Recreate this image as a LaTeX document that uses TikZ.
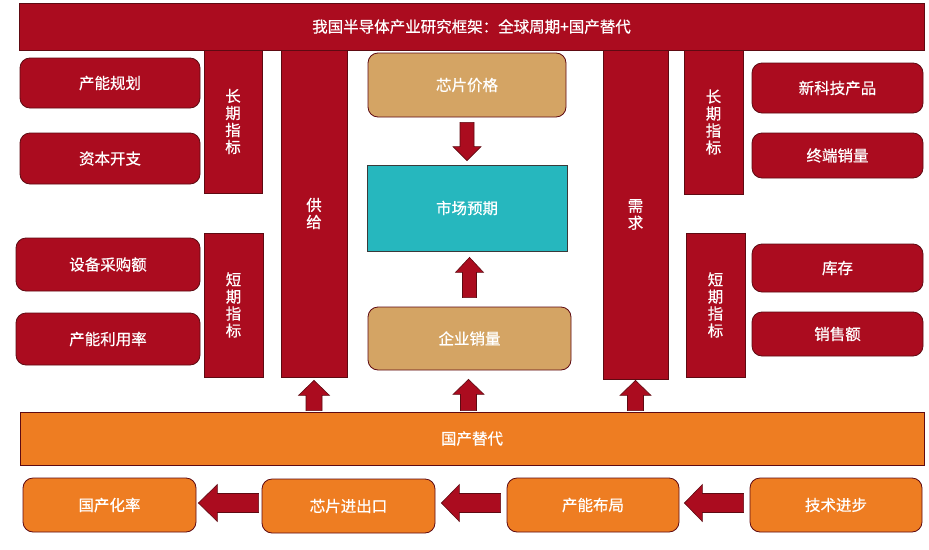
\documentclass[tikz,border=0pt]{standalone}
\usepackage{fontspec}
\newfontfamily\cjk[FakeBold=0.6]{Noto Sans CJK SC}
\usetikzlibrary{calc}
\definecolor{redc}{HTML}{AB0C1F}
\definecolor{bordc}{HTML}{5E0A12}
\definecolor{orangec}{HTML}{EE7D22}
\definecolor{tanc}{HTML}{D4A464}
\definecolor{tealc}{HTML}{26B7BE}
\definecolor{tealbord}{HTML}{3A3A3A}
\tikzset{
  base/.style={draw=bordc, line width=0.8pt, text=white, inner sep=0pt, align=center,
    font=\cjk\fontsize{15.5}{17}\selectfont},
  redbox/.style={base, fill=redc},
  redround/.style={redbox, rounded corners=10pt},
  tanbox/.style={base, fill=tanc, rounded corners=10pt},
  tealbox/.style={base, fill=tealc, draw=tealbord},
  orangebox/.style={base, fill=orangec},
  orround/.style={orangebox, rounded corners=10pt},
  arrowfill/.style={fill=redc, draw=bordc, line width=0.6pt, line join=miter},
}
% block arrow: from, to, shaft half width, head half width, head length
\newcommand{\blockarr}[5]{%
  \coordinate (ba-h) at ($(#2)!#5!(#1)$);
  \draw[arrowfill] ($(#1)!#3!90:(#2)$) -- ($(ba-h)!#3!90:(#2)$) -- ($(ba-h)!#4!90:(#2)$)
    -- (#2) -- ($(ba-h)!#4!-90:(#2)$) -- ($(ba-h)!#3!-90:(#2)$) -- ($(#1)!#3!-90:(#2)$) -- cycle;}
\begin{document}
\begin{tikzpicture}[x=1pt, y=-1pt]
\useasboundingbox (0,0) rectangle (929,549);
\fill[white] (0,0) rectangle (929,549);
% top banner
\node[redbox, minimum width=905, minimum height=47] (title) at (471.5,26.5) {我国半导体产业研究框架：全球周期+国产替代};
% left side
\node[redround, minimum width=180, minimum height=50] (cnhg) at (110,83) {产能规划};
\node[redround, minimum width=180, minimum height=51] (zbkz) at (110,158.5) {资本开支};
\node[redbox, minimum width=58, minimum height=143] (cqL) at (233,121.5) {长\\期\\指\\标};
\node[redround, minimum width=184, minimum height=53] (sbcg) at (108,264.5) {设备采购额};
\node[redround, minimum width=184, minimum height=52] (cnly) at (108,339) {产能利用率};
\node[redbox, minimum width=59, minimum height=144] (dqL) at (233.5,305) {短\\期\\指\\标};
\node[redbox, minimum width=66, minimum height=327] (gongji) at (314,213.5) {供\\给};
% middle
\node[tanbox, minimum width=198, minimum height=64] (xpjg) at (467,85) {芯片价格};
\node[tealbox, minimum width=200, minimum height=86] (scyq) at (467,208) {市场预期};
\node[tanbox, minimum width=203, minimum height=63] (qyxl) at (469.5,338.5) {企业销量};
% right side
\node[redbox, minimum width=65, minimum height=329] (xuqiu) at (635.5,214.5) {需\\求};
\node[redbox, minimum width=59, minimum height=144] (cqR) at (713.5,122) {长\\期\\指\\标};
\node[redbox, minimum width=59, minimum height=144] (dqR) at (715.5,305) {短\\期\\指\\标};
\node[redround, minimum width=171, minimum height=50] (xkj) at (837.5,88) {新科技产品};
\node[redround, minimum width=171, minimum height=45] (zdxl) at (837.5,155.5) {终端销量};
\node[redround, minimum width=171, minimum height=48] (kc) at (837.5,268) {库存};
\node[redround, minimum width=171, minimum height=44] (xse) at (837.5,334) {销售额};
% bottom
\node[orangebox, minimum width=904, minimum height=53] (gctd) at (472,438.5) {国产替代};
\node[orround, minimum width=173, minimum height=54] (gchl) at (109.5,505) {国产化率};
\node[orround, minimum width=173, minimum height=54] (xpjck) at (348.5,506) {芯片进出口};
\node[orround, minimum width=172, minimum height=54] (cnbj) at (593,505) {产能布局};
\node[orround, minimum width=172, minimum height=54] (jsjb) at (836,505) {技术进步};
% arrows: middle column
\blockarr{$(xpjg.south)+(0,5)$}{$(scyq.north)+(0,-4)$}{7pt}{14pt}{14pt}
\blockarr{$(qyxl.north)+(0,-9)$}{$(scyq.south -| qyxl.north)+(0,6)$}{7pt}{14pt}{15pt}
% arrows: from 国产替代 upwards
\blockarr{$(gctd.north -| gongji.south)+(0,-1)$}{$(gongji.south)+(0,3)$}{8pt}{15.5pt}{15pt}
\blockarr{$(gctd.north -| qyxl.south)+(-1,-1)$}{$(qyxl.south)+(-1,9)$}{8pt}{15.5pt}{15pt}
\blockarr{$(gctd.north -| xuqiu.south)+(0,-1)$}{$(xuqiu.south)+(0,1)$}{8pt}{15.5pt}{15pt}
% arrows: bottom row, right to left
\blockarr{$(xpjck.west)+(-3,-3)$}{$(gchl.east |- xpjck.west)+(2,-3)$}{9.5pt}{18.5pt}{19pt}
\blockarr{$(cnbj.west)+(-6,-2)$}{$(xpjck.east |- cnbj.west)+(6,-2)$}{9.5pt}{18.5pt}{18pt}
\blockarr{$(jsjb.west)+(-6,-2)$}{$(cnbj.east)+(5,-2)$}{9.5pt}{18.5pt}{18pt}
\end{tikzpicture}
\end{document}
